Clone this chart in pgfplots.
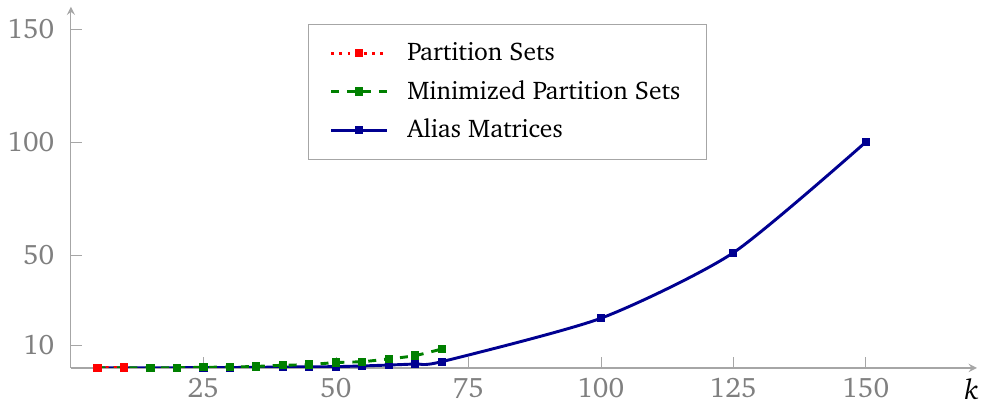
\documentclass[border=0pt]{standalone}
\usepackage[T1]{fontenc}
\usepackage{charter}
\usepackage{pgfplots}
\pgfplotsset{compat=1.18}
\definecolor{myblue}{RGB}{0,0,145}
\definecolor{mygreen}{RGB}{0,128,0}
\begin{document}
\begin{tikzpicture}
\begin{axis}[
  at={(0pt,0pt)}, anchor=south west,
  scale only axis, width=341pt, height=136pt,
  xmin=0, xmax=171, ymin=0, ymax=160,
  axis lines=left,
  axis line style={black!35},
  xtick={25,50,75,100,125,150},
  ytick={10,50,100,150},
  tick style={black!35},
  tick align=inside,
  major tick length=4pt,
  tick label style={black!50, font=\fontsize{10.6}{12.7}\selectfont},
  yticklabel style={xshift=-2.7pt},
  xticklabel style={yshift=-0.3pt},
  /pgf/number format/assume math mode=true,
  xlabel={\textit{k}},
  xlabel style={at={(axis cs:170,0)}, anchor=north, inner sep=4pt, black, font=\fontsize{10.6}{12.7}\selectfont},
  every axis plot/.append style={line width=1.1pt, mark=square*, mark size=1.35pt},
]
\addplot[myblue, solid, smooth, tension=0.4, mark options={solid, line width=0.4pt}] coordinates {
 (5,0.1) (10,0.1) (15,0.1) (20,0.1) (25,0.2) (30,0.2) (35,0.3) (40,0.4) (45,0.5)
 (50,0.6) (55,0.9) (60,1.3) (65,1.8) (70,2.8) (100,22) (125,51) (150,100)
};
\addplot[mygreen, dashed, smooth, tension=0.4, mark options={solid, line width=0.4pt}] coordinates {
 (5,0.1) (10,0.1) (15,0.1) (20,0.1) (25,0.3) (30,0.4) (35,0.7) (40,1.2) (45,1.5)
 (50,2.4) (55,2.8) (60,4.0) (65,5.5) (70,8.4)
};
\addplot[red, dotted, mark options={solid, line width=0.4pt}] coordinates {
 (5,0.1) (10,0.2)
};
\end{axis}
\begin{axis}[
  at={(0pt,0pt)}, anchor=south west,
  scale only axis, width=341pt, height=136pt,
  xmin=0, xmax=171, ymin=0, ymax=160,
  hide axis,
  legend style={at={(axis cs:44.7,152.2)}, anchor=north west, draw=black!35, inner xsep=8pt, inner ysep=4.5pt, row sep=2pt, font=\fontsize{9.6}{11.5}\selectfont},
  legend cell align=left,
  legend image code/.code={\draw[#1] (0cm,0cm) -- (0.74cm,0cm); \draw[#1, solid] plot coordinates {(0.37cm,0cm)}; \path (0.92cm,0cm);},
  every axis plot/.append style={line width=1.1pt, mark=square*, mark size=1.35pt},
]
\addlegendimage{red, dotted, mark options={solid, line width=0.4pt}}
\addlegendentry{Partition Sets}
\addlegendimage{mygreen, dashed, mark options={solid, line width=0.4pt}}
\addlegendentry{Minimized Partition Sets}
\addlegendimage{myblue, solid, mark options={solid, line width=0.4pt}}
\addlegendentry{Alias Matrices}
\end{axis}
\pgfresetboundingbox
\path (-26.7pt,-15.8pt) rectangle (342.9pt,138.5pt);
\end{tikzpicture}
\end{document}
